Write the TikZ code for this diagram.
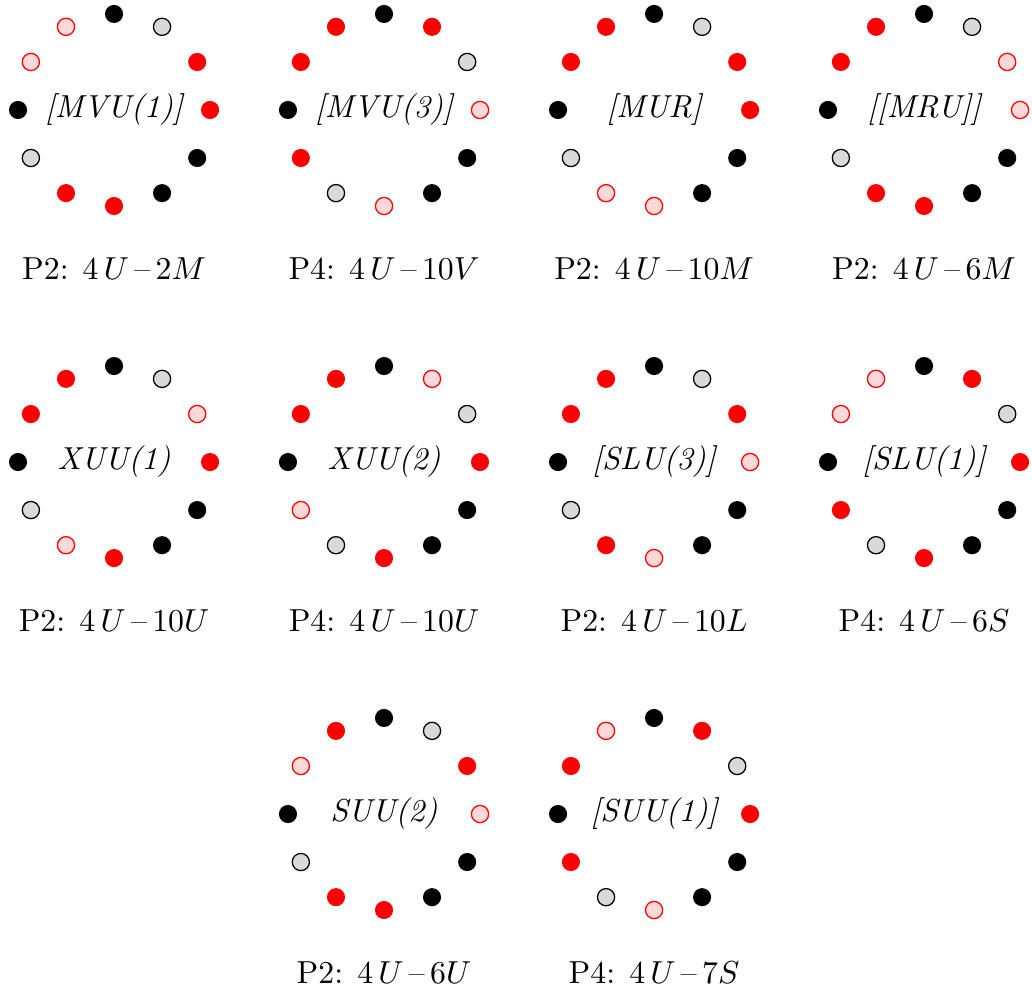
\documentclass[tikz,border=0pt]{standalone}
\usepackage{amsmath,amssymb}
\usepackage{tikz}
\usetikzlibrary{calc}
\usepackage{xcolor}

\begin{document}
\begin{tikzpicture}[
  blk/.style = {circle, fill=black, inner sep=0pt, minimum size=0.2cm},
  rd/.style  = {circle, fill=red, inner sep=0pt, minimum size=0.2cm},
  pnk/.style = {circle, draw=red, fill=red!15, inner sep=0pt, minimum size=0.19cm},
  gry/.style = {circle, draw=black, fill=gray!30, inner sep=0pt, minimum size=0.19cm},
  tag/.style = {font=\itshape},
  score/.style = {font=\normalsize},
]
\useasboundingbox (0,0) rectangle (11.403,-10.961);

% ========== Top row ==========
\coordinate (A) at (1.260,-1.215);
\node[tag] (Atag) at (A) {[MVU(1)]};
\foreach \k [count=\i from 0] in {blk,gry,rd,rd,blk,blk,rd,rd,gry,blk,pnk,pnk}
  \node[style/.expanded=\k] (A\i) at ($(A)+(90-30*\i:1.061)$) {};
\node[score] (Ascore) at ($(A)+(0,-1.751)$) {P2: $4\,U$\,--\,$2M$};

\coordinate (B) at (4.243,-1.215);
\node[tag] (Btag) at (B) {[MVU(3)]};
\foreach \k [count=\i from 0] in {blk,rd,gry,pnk,blk,blk,pnk,gry,rd,blk,rd,rd}
  \node[style/.expanded=\k] (B\i) at ($(B)+(90-30*\i:1.061)$) {};
\node[score] (Bscore) at ($(B)+(0,-1.751)$) {P4: $4\,U$\,--\,$10V$};

\coordinate (C) at (7.227,-1.215);
\node[tag] (Ctag) at (C) {[MUR]};
\foreach \k [count=\i from 0] in {blk,gry,rd,rd,blk,blk,pnk,pnk,gry,blk,rd,rd}
  \node[style/.expanded=\k] (C\i) at ($(C)+(90-30*\i:1.061)$) {};
\node[score] (Cscore) at ($(C)+(0,-1.751)$) {P2: $4\,U$\,--\,$10M$};

\coordinate (D) at (10.210,-1.215);
\node[tag] (Dtag) at (D) {[[MRU]]};
\foreach \k [count=\i from 0] in {blk,gry,pnk,pnk,blk,blk,rd,rd,gry,blk,rd,rd}
  \node[style/.expanded=\k] (D\i) at ($(D)+(90-30*\i:1.061)$) {};
\node[score] (Dscore) at ($(D)+(0,-1.751)$) {P2: $4\,U$\,--\,$6M$};

% ========== Middle row ==========
\coordinate (E) at (1.260,-5.105);
\node[tag] (Etag) at (E) {XUU(1)};
\foreach \k [count=\i from 0] in {blk,gry,pnk,rd,blk,blk,rd,pnk,gry,blk,rd,rd}
  \node[style/.expanded=\k] (E\i) at ($(E)+(90-30*\i:1.061)$) {};
\node[score] (Escore) at ($(E)+(0,-1.751)$) {P2: $4\,U$\,--\,$10U$};

\coordinate (F) at (4.243,-5.105);
\node[tag] (Ftag) at (F) {XUU(2)};
\foreach \k [count=\i from 0] in {blk,pnk,gry,rd,blk,blk,rd,gry,pnk,blk,rd,rd}
  \node[style/.expanded=\k] (F\i) at ($(F)+(90-30*\i:1.061)$) {};
\node[score] (Fscore) at ($(F)+(0,-1.751)$) {P4: $4\,U$\,--\,$10U$};

\coordinate (G) at (7.227,-5.105);
\node[tag] (Gtag) at (G) {[SLU(3)]};
\foreach \k [count=\i from 0] in {blk,gry,rd,pnk,blk,blk,pnk,rd,gry,blk,rd,rd}
  \node[style/.expanded=\k] (G\i) at ($(G)+(90-30*\i:1.061)$) {};
\node[score] (Gscore) at ($(G)+(0,-1.751)$) {P2: $4\,U$\,--\,$10L$};

\coordinate (H) at (10.210,-5.105);
\node[tag] (Htag) at (H) {[SLU(1)]};
\foreach \k [count=\i from 0] in {blk,rd,gry,rd,blk,blk,rd,gry,rd,blk,pnk,pnk}
  \node[style/.expanded=\k] (H\i) at ($(H)+(90-30*\i:1.061)$) {};
\node[score] (Hscore) at ($(H)+(0,-1.751)$) {P4: $4\,U$\,--\,$6S$};

% ========== Bottom row ==========
\coordinate (I) at (4.243,-8.994);
\node[tag] (Itag) at (I) {SUU(2)};
\foreach \k [count=\i from 0] in {blk,gry,rd,pnk,blk,blk,rd,rd,gry,blk,pnk,rd}
  \node[style/.expanded=\k] (I\i) at ($(I)+(90-30*\i:1.061)$) {};
\node[score] (Iscore) at ($(I)+(0,-1.751)$) {P2: $4\,U$\,--\,$6U$};

\coordinate (J) at (7.227,-8.994);
\node[tag] (Jtag) at (J) {[SUU(1)]};
\foreach \k [count=\i from 0] in {blk,rd,gry,rd,blk,blk,pnk,gry,rd,blk,rd,pnk}
  \node[style/.expanded=\k] (J\i) at ($(J)+(90-30*\i:1.061)$) {};
\node[score] (Jscore) at ($(J)+(0,-1.751)$) {P4: $4\,U$\,--\,$7S$};

\end{tikzpicture}
\end{document}
